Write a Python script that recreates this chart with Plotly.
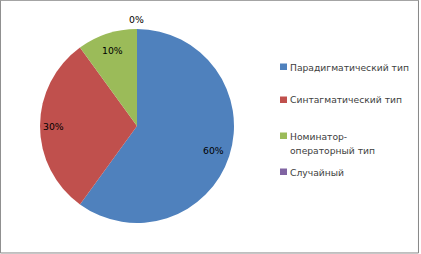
import math
import plotly.graph_objects as go

categories = ["Парадигматический тип", "Синтагматический тип", "Номинатор-операторный тип", "Случайный"]
legend_lines = [["Парадигматический тип"], ["Синтагматический тип"], ["Номинатор-", "операторный тип"], ["Случайный"]]
values = [60, 30, 10, 0]
colors = ["#4F81BD", "#C0504D", "#9BBB59", "#8064A2"]

W, H = 421, 254
cx, cy, r = 137, 126, 97

fig = go.Figure(go.Pie(
    labels=categories,
    values=values,
    marker=dict(colors=colors, line=dict(width=0)),
    sort=False,
    direction="clockwise",
    rotation=0,
    textinfo="none",
    domain=dict(x=[(cx - r) / W, (cx + r) / W], y=[(H - cy - r) / H, (H - cy + r) / H]),
    showlegend=False,
))

def px_x(x):
    return x / W

def px_y(y):
    return 1 - y / H

# percentage labels placed along each slice's mid-angle (computed from values)
total = sum(values)
annotations = []
shapes = []
start = 0.0
for v in values:
    frac = v / total
    mid = (start + frac / 2) * 2 * math.pi
    if v == 0:
        rr = 1.10 * r
    elif frac >= 0.5:
        rr = 0.83 * r
    elif frac >= 0.2:
        rr = 0.86 * r
    else:
        rr = 0.82 * r
    lx = cx + rr * math.sin(mid)
    ly = cy - rr * math.cos(mid)
    annotations.append(dict(x=px_x(lx), y=px_y(ly), xref="paper", yref="paper",
                            xanchor="center", yanchor="middle",
                            text=f"{round(frac * 100)}%", showarrow=False,
                            font=dict(family="DejaVu Sans", size=9.3, color="#000000")))
    start += frac

# legend (built from categories and colours)
leg_y = [67, 100, 136, 172]
line_gap = 14.5
for lines, col, ly in zip(legend_lines, colors, leg_y):
    shapes.append(dict(type="rect", xref="paper", yref="paper",
                       x0=px_x(280), x1=px_x(287), y0=px_y(ly + 3), y1=px_y(ly - 3.5),
                       fillcolor=col, line=dict(width=0)))
    for i, txt in enumerate(lines):
        annotations.append(dict(x=px_x(289), y=px_y(ly + i * line_gap), xref="paper", yref="paper",
                                xanchor="left", yanchor="middle", align="left",
                                text=txt, showarrow=False, borderpad=0,
                                font=dict(family="DejaVu Sans", size=9.2, color="#404040")))

shapes.append(dict(type="rect", xref="paper", yref="paper", x0=0.001, y0=0.004, x1=0.994, y1=0.999,
                   line=dict(color="#868686", width=1)))

fig.update_layout(
    width=W, height=H,
    margin=dict(l=0, r=0, t=0, b=0, autoexpand=False),
    paper_bgcolor="white",
    font=dict(family="DejaVu Sans", size=9.3, color="#404040"),
    annotations=annotations,
    shapes=shapes,
)

fig.write_html("out.html")
